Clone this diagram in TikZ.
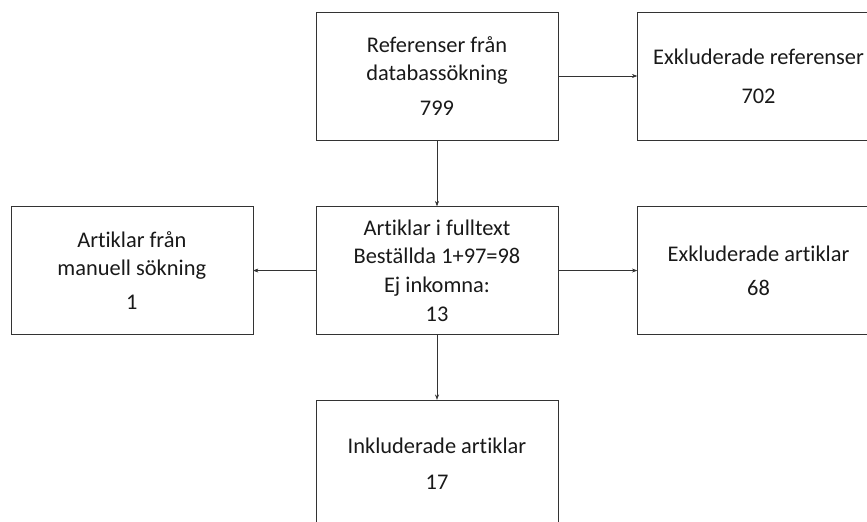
\documentclass[tikz,border=0pt]{standalone}
\usepackage{fontspec}
\setmainfont{Carlito}[Ligatures=NoCommon]
\usetikzlibrary{positioning, arrows.meta}

\begin{document}
\begin{tikzpicture}[
    x=0.75pt, y=-0.75pt,
    every node/.style={rectangle, draw=black!80, align=center, text=black!90,
        font=\fontsize{16.8}{21.4}\selectfont, inner sep=0pt,
        minimum width=181.5pt, minimum height=96pt},
    flow/.style={draw=black!80, -{Stealth[length=4pt, width=3pt]}},
    node distance=49.5pt and 59.25pt
]

\useasboundingbox (0,0) rectangle (867,521);

\node (refs) at (437,76) {Referenser från\\databassökning\\[4.8pt]799};
\node[right=of refs] (exrefs) {Exkluderade referenser\\[7.8pt]702};
\node[below=of refs] (fulltext) {Artiklar i fulltext\\Beställda 1+97=98\\Ej inkomna:\\13};
\node[left=47pt of fulltext] (manual) {Artiklar från\\manuell sökning\\[4.2pt]1};
\node[right=of fulltext] (exart) {Exkluderade artiklar\\[4.2pt]68};
\node[below=48.75pt of fulltext] (incl) {Inkluderade artiklar\\[5.6pt]17};

\draw[flow] (refs) -- (exrefs);
\draw[flow] (refs) -- (fulltext);
\draw[flow] (fulltext) -- (manual);
\draw[flow] (fulltext) -- (exart);
\draw[flow] (fulltext) -- (incl);

\end{tikzpicture}
\end{document}
